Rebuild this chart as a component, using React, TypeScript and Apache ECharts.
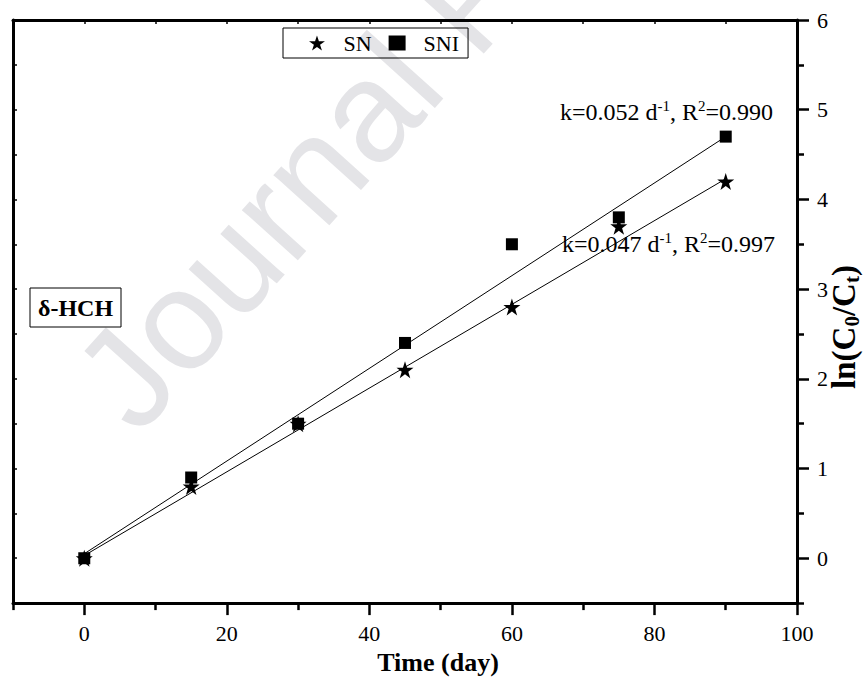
import React, { useEffect, useRef } from "react";
import * as echarts from "echarts";

// ---- data ----
const timeDays = [0, 15, 30, 45, 60, 75, 90];
const snValues = [0, 0.8, 1.5, 2.1, 2.8, 3.7, 4.2];
const sniValues = [0, 0.9, 1.5, 2.4, 3.5, 3.8, 4.7];
const fitX = [0, 90];
const snFitY = [0.03, 4.23];
const sniFitY = [0.05, 4.7];
const xMajorTicks = [0, 20, 40, 60, 80, 100];
const xMinorTicks = [-10, 10, 30, 50, 70, 90];
const xTopTicks = [-10, 0, 10, 20, 30, 40, 50, 60, 70, 80, 90, 100];
const yMajorTicks = [0, 1, 2, 3, 4, 5, 6];
const yMinorTicks = [-0.5, 0.5, 1.5, 2.5, 3.5, 4.5, 5.5];
const yLeftTicks = [-0.5, 0, 0.5, 1, 1.5, 2, 2.5, 3, 3.5, 4, 4.5, 5, 5.5, 6];
const seriesNames = ["SN", "SNI"];
const snNote = "{t|k=0.047 d}{s|-1}{t|, R}{s|2}{t|=0.997}";
const sniNote = "{t|k=0.052 d}{s|-1}{t|, R}{s|2}{t|=0.990}";

const SERIF = "'Liberation Serif', 'Times New Roman', serif";
const STAR =
  "path://M50,0 L61.8,35.1 L98.9,35.1 L68.9,56.8 L80.3,91.9 L50,70.2 L19.7,91.9 L31.1,56.8 L1.1,35.1 L38.2,35.1 Z";

export default function App() {
  const ref = useRef<HTMLDivElement>(null);
  useEffect(() => {
    if (!ref.current) return;
    const chart = echarts.init(ref.current, null, { renderer: "svg" });
    const X_MIN = -10,
      X_MAX = 100,
      Y_MIN = -0.5,
      Y_MAX = 6;
    const lineStyle = { color: "#000", width: 3 };
    const noteRich = {
      t: { fontFamily: SERIF, fontSize: 24, color: "#000", lineHeight: 28 },
      s: { fontFamily: SERIF, fontSize: 15, color: "#000", lineHeight: 15, verticalAlign: "top" },
    };
    const option: any = {
      animation: false,
      backgroundColor: "#fff",
      grid: { left: 13, right: 69, top: 20, bottom: 76, containLabel: false },
      legend: {
        data: seriesNames,
        left: 283,
        top: 28,
        orient: "horizontal",
        borderColor: "#000",
        borderWidth: 1,
        padding: [4, 9, 4, 26],
        itemWidth: 17,
        itemHeight: 15,
        itemGap: 17,
        textStyle: {
          fontFamily: SERIF,
          fontSize: 22,
          color: "#000",
          lineHeight: 22,
          padding: [0, 0, 0, 13],
        },
      },
      xAxis: [
        {
          type: "value",
          position: "bottom",
          min: X_MIN,
          max: X_MAX,
          axisLine: { show: true, onZero: false, lineStyle },
          axisTick: {
            show: true,
            inside: false,
            length: 12,
            customValues: xMajorTicks,
            lineStyle: { color: "#000", width: 2.5 },
          },
          axisLabel: {
            customValues: xMajorTicks,
            fontFamily: SERIF,
            fontSize: 22,
            color: "#000",
            margin: 19,
          },
          splitLine: { show: false },
          name: "Time (day)",
          nameLocation: "middle",
          nameGap: 43,
          nameTextStyle: {
            fontFamily: SERIF,
            fontSize: 26,
            fontWeight: "bold",
            color: "#000",
            padding: [0, 0, 0, 66],
          },
        },
        {
          type: "value",
          position: "bottom",
          min: X_MIN,
          max: X_MAX,
          axisLine: { show: false, onZero: false },
          axisTick: {
            show: true,
            length: 7,
            customValues: xMinorTicks,
            lineStyle: { color: "#000", width: 2.5 },
          },
          axisLabel: { show: false },
          splitLine: { show: false },
        },
        {
          type: "value",
          position: "top",
          min: X_MIN,
          max: X_MAX,
          axisLine: { show: true, onZero: false, lineStyle },
          axisTick: {
            show: true,
            inside: true,
            length: 4,
            customValues: xTopTicks,
            lineStyle: { color: "#000", width: 1.5 },
          },
          axisLabel: { show: false },
          splitLine: { show: false },
        },
      ],
      yAxis: [
        {
          type: "value",
          position: "right",
          min: Y_MIN,
          max: Y_MAX,
          axisLine: { show: true, onZero: false, lineStyle },
          axisTick: {
            show: true,
            inside: false,
            length: 12,
            customValues: yMajorTicks,
            lineStyle: { color: "#000", width: 2.5 },
          },
          axisLabel: {
            customValues: yMajorTicks,
            fontFamily: SERIF,
            fontSize: 22,
            color: "#000",
            margin: 20,
          },
          splitLine: { show: false },
        },
        {
          type: "value",
          position: "right",
          min: Y_MIN,
          max: Y_MAX,
          axisLine: { show: false, onZero: false },
          axisTick: {
            show: true,
            length: 7,
            customValues: yMinorTicks,
            lineStyle: { color: "#000", width: 2.5 },
          },
          axisLabel: { show: false },
          splitLine: { show: false },
        },
        {
          type: "value",
          position: "left",
          min: Y_MIN,
          max: Y_MAX,
          axisLine: { show: true, onZero: false, lineStyle },
          axisTick: {
            show: true,
            inside: true,
            length: 4,
            customValues: yLeftTicks,
            lineStyle: { color: "#000", width: 1.5 },
          },
          axisLabel: { show: false },
          splitLine: { show: false },
        },
      ],
      graphic: [
        {
          type: "text",
          silent: true,
          z: -10,
          x: 154,
          y: 452,
          rotation: (48 * Math.PI) / 180,
          style: {
            text: "Journal Pre-proof",
            fill: "#e4e4e7",
            font: "142px 'Liberation Sans', Arial, sans-serif",
            textAlign: "left",
            textVerticalAlign: "bottom",
            align: "left",
            verticalAlign: "bottom",
          },
        },
        {
          type: "group",
          z: 100,
          children: [
            {
              type: "rect",
              shape: { x: 30, y: 288, width: 91, height: 39 },
              style: { fill: "#fff", stroke: "#000", lineWidth: 1 },
            },
            {
              type: "text",
              x: 75.5,
              y: 308,
              style: {
                text: "δ-HCH",
                fill: "#000",
                font: "bold 24px 'Liberation Serif', 'Times New Roman', serif",
                textAlign: "center",
                textVerticalAlign: "middle",
                align: "center",
                verticalAlign: "middle",
              },
            },
          ],
        },
        {
          type: "text",
          z: 100,
          x: 560,
          y: 112,
          style: {
            text: sniNote,
            rich: noteRich,
            textAlign: "left",
            textVerticalAlign: "middle",
            align: "left",
            verticalAlign: "middle",
          },
        },
        {
          type: "text",
          z: 100,
          x: 562,
          y: 244,
          style: {
            text: snNote,
            rich: noteRich,
            textAlign: "left",
            textVerticalAlign: "middle",
            align: "left",
            verticalAlign: "middle",
          },
        },
        {
          type: "text",
          z: 100,
          x: 844,
          y: 327,
          rotation: Math.PI / 2,
          style: {
            text: "{b|ln(C}{u|0}{b|/C}{u|t}{b|)}",
            rich: {
              b: { fontFamily: SERIF, fontSize: 33, fontWeight: "bold", color: "#000", lineHeight: 36 },
              u: {
                fontFamily: SERIF,
                fontSize: 21,
                fontWeight: "bold",
                color: "#000",
                lineHeight: 21,
                verticalAlign: "bottom",
              },
            },
            textAlign: "center",
            textVerticalAlign: "middle",
            align: "center",
            verticalAlign: "middle",
          },
        },
      ],
      series: [
        {
          name: "SN fit",
          type: "line",
          xAxisIndex: 0,
          yAxisIndex: 0,
          data: fitX.map((x, i) => [x, snFitY[i]]),
          showSymbol: false,
          symbol: "none",
          lineStyle: { color: "#000", width: 1 },
          z: 3,
          silent: true,
        },
        {
          name: "SNI fit",
          type: "line",
          xAxisIndex: 0,
          yAxisIndex: 0,
          data: fitX.map((x, i) => [x, sniFitY[i]]),
          showSymbol: false,
          symbol: "none",
          lineStyle: { color: "#000", width: 1 },
          z: 3,
          silent: true,
        },
        {
          name: "SN",
          type: "scatter",
          xAxisIndex: 0,
          yAxisIndex: 0,
          symbol: STAR,
          symbolSize: 17,
          itemStyle: { color: "#000", opacity: 1 },
          data: timeDays.map((t, i) => [t, snValues[i]]),
          z: 4,
        },
        {
          name: "SNI",
          type: "scatter",
          xAxisIndex: 0,
          yAxisIndex: 0,
          symbol: "rect",
          symbolSize: 12,
          itemStyle: { color: "#000", opacity: 1 },
          data: timeDays.map((t, i) => [t, sniValues[i]]),
          z: 5,
        },
      ],
    };
    chart.setOption(option);
    return () => chart.dispose();
  }, []);
  return <div ref={ref} style={{ width: 866, height: 680, position: "absolute", left: 0, top: 0 }} />;
}
